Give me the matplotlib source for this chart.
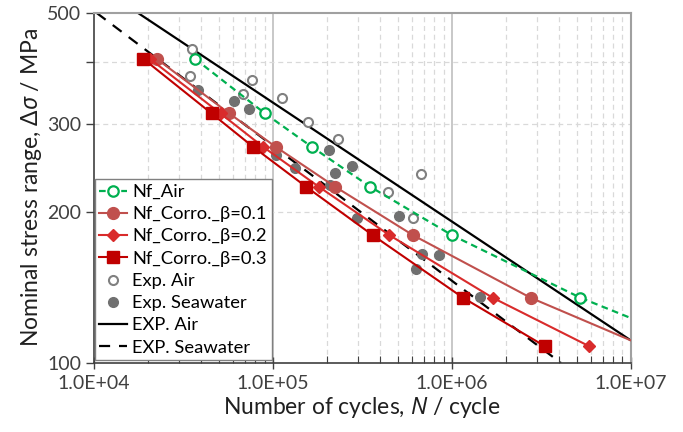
import matplotlib
matplotlib.use("Agg")
import matplotlib.pyplot as plt
from matplotlib.ticker import FixedLocator, NullFormatter, FixedFormatter

plt.rcParams['font.family'] = ['Lato', 'Noto Sans', 'DejaVu Sans']
plt.rcParams['mathtext.fontset'] = 'custom'
plt.rcParams['mathtext.it'] = 'Noto Sans:italic'
plt.rcParams['mathtext.rm'] = 'Noto Sans'

# ---- data ----
air_N = [3.68e4, 9.06e4, 1.658e5, 3.50e5, 1.004e6, 5.24e6, 1.0e7]
air_S = [405, 315, 270, 225, 180, 135, 123]

b1_N = [2.25e4, 5.72e4, 1.043e5, 2.23e5, 6.08e5, 2.76e6, 1.0e7]
b1_S = [405, 315, 270, 225, 180, 135, 111]

b2_N = [2.06e4, 5.11e4, 8.86e4, 1.807e5, 4.49e5, 1.694e6, 5.87e6]
b2_S = [405, 315, 270, 225, 180, 135, 108]

b3_N = [1.893e4, 4.56e4, 7.79e4, 1.535e5, 3.62e5, 1.157e6, 3.32e6]
b3_S = [405, 315, 270, 225, 180, 135, 108]

expair_N = [3.541e4, 3.451e4, 7.71e4, 6.85e4, 1.131e5, 1.581e5, 2.326e5, 4.395e5, 6.08e5, 6.71e5]
expair_S = [424, 375, 367, 344, 339, 303, 280, 220, 195, 239]

expsea_N = [3.825e4, 6.10e4, 7.40e4, 1.037e5, 1.332e5, 2.072e5, 2.077e5, 2.228e5, 2.762e5,
            2.947e5, 5.09e5, 6.28e5, 6.83e5, 8.44e5, 1.434e6]
expsea_S = [351, 334, 321, 260, 245, 266, 227, 240, 247, 194.5, 197, 154, 165, 164, 135.6]

fitair_N = [1.77e4, 1.0e7]
fitair_S = [500, 111]
fitsea_N = [1.04e4, 4.08e6]
fitsea_S = [500, 100]

xticks = [1e4, 1e5, 1e6, 1e7]
xticklabels = ['1.0E+04', '1.0E+05', '1.0E+06', '1.0E+07']
yticks = [100, 200, 300, 400, 500]
yticklabels = ['100', '200', '300', '', '500']

# ---- plot ----
fig = plt.figure(figsize=(6.83, 4.32), dpi=100)
ax = fig.add_axes([0.1372, 0.1597, 0.7862, 0.8102])
ax.set_xscale('log')
ax.set_yscale('log')
ax.set_xlim(1e4, 1e7)
ax.set_ylim(100, 500)

green = '#00B050'
c1 = '#C0504D'
c2 = '#D92B2B'
c3 = '#C00000'
gray_o = '#808080'
gray_f = '#707070'

ax.plot(air_N, air_S, color=green, ls=(0, (3, 2)), lw=1.6, marker='o', ms=7.5,
        mfc='white', mec=green, mew=1.6, markevery=list(range(6)), label='Nf_Air', zorder=5)
ax.plot(b1_N, b1_S, color=c1, lw=1.5, marker='o', ms=8.5, mfc=c1, mec=c1,
        markevery=list(range(6)), label='Nf_Corro._β=0.1', zorder=4)
ax.plot(b2_N, b2_S, color=c2, lw=1.5, marker='D', ms=6, mfc=c2, mec=c2,
        label='Nf_Corro._β=0.2', zorder=4)
ax.plot(b3_N, b3_S, color=c3, lw=1.5, marker='s', ms=8.5, mfc=c3, mec=c3,
        label='Nf_Corro._β=0.3', zorder=4)
ax.plot(expair_N, expair_S, ls='none', marker='o', ms=6.5, mfc='white', mec=gray_o,
        mew=1.5, label='Exp. Air', zorder=3)
ax.plot(expsea_N, expsea_S, ls='none', marker='o', ms=7, mfc=gray_f, mec=gray_f,
        label='Exp. Seawater', zorder=3)
ax.plot(fitair_N, fitair_S, color='black', lw=1.6, label='EXP. Air', zorder=2)
ax.plot(fitsea_N, fitsea_S, color='black', lw=1.6, ls=(0, (5, 4)), label='EXP. Seawater', zorder=2)

# grid
ax.xaxis.set_major_locator(FixedLocator(xticks))
ax.xaxis.set_major_formatter(FixedFormatter(xticklabels))
minors = [m * 10 ** e for e in range(4, 7) for m in range(2, 10)]
ax.xaxis.set_minor_locator(FixedLocator(minors))
ax.xaxis.set_minor_formatter(NullFormatter())
ax.yaxis.set_major_locator(FixedLocator(yticks))
ax.yaxis.set_major_formatter(FixedFormatter(yticklabels))
ax.yaxis.set_minor_locator(FixedLocator([]))

for v in [1e5, 1e6]:
    ax.axvline(v, color='#BFBFBF', lw=1.2, zorder=0)
for v in minors:
    ax.axvline(v, color='#D9D9D9', lw=0.9, ls=(0, (4, 3)), zorder=0)
for v in [200, 300, 400]:
    ax.axhline(v, color='#D9D9D9', lw=0.9, ls=(0, (4, 3)), zorder=0)

ax.tick_params(axis='x', which='major', direction='inout', length=9, width=1,
               labelsize=14, colors='#404040', labelcolor='#404040', pad=4)
ax.tick_params(axis='x', which='minor', direction='in', length=5, width=0.8, colors='#404040')
ax.tick_params(axis='y', which='major', direction='out', length=6, width=1,
               labelsize=14, colors='#404040', labelcolor='#404040', pad=3)

for s in ['left', 'bottom']:
    ax.spines[s].set_color('#404040')
    ax.spines[s].set_linewidth(1.2)
for s in ['top', 'right']:
    ax.spines[s].set_color('#A0A0A0')
    ax.spines[s].set_linewidth(1.5)

ax.set_xlabel('Number of cycles, $N$ / cycle', fontsize=16.5, color='#202020', labelpad=2)
ax.set_ylabel('Nominal stress range, Δ$\\sigma$ / MPa', fontsize=16.5, color='#202020', labelpad=2)

leg = ax.legend(loc='lower left', bbox_to_anchor=(0.002, 0.008), fontsize=13.2,
                frameon=True, fancybox=False, framealpha=1, edgecolor='#808080',
                borderaxespad=0, labelspacing=0.34, handlelength=1.5, handletextpad=0.3,
                borderpad=0.25)
leg.get_frame().set_linewidth(1.0)
leg.set_zorder(10)

fig.savefig('out.png', dpi=100)
